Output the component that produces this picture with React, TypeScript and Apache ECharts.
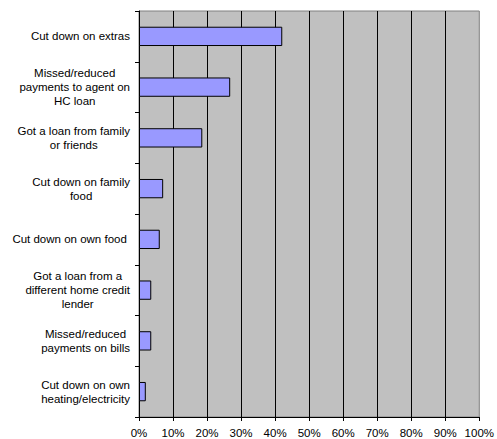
import React, { useEffect, useRef } from "react";
import * as echarts from "echarts";

const categories = [
  "Cut down on extras",
  "Missed/reduced\npayments to agent on\nHC loan",
  "Got a loan from family\nor friends",
  "Cut down on family\nfood",
  "Cut down on own food ",
  "Got a loan from a\ndifferent home credit\nlender",
  "Missed/reduced\npayments on bills",
  "Cut down on own\nheating/electricity",
];

const values = [42.1, 26.8, 18.6, 7.1, 6.1, 3.6, 3.6, 2.0];

const xTicks = [0, 10, 20, 30, 40, 50, 60, 70, 80, 90, 100];

const FONT = "'Liberation Sans', Arial, sans-serif";

export default function App() {
  const ref = useRef<HTMLDivElement>(null);
  useEffect(() => {
    if (!ref.current) return;
    const chart = echarts.init(ref.current, null, { renderer: "svg" });
    chart.setOption({
      animation: false,
      backgroundColor: "#ffffff",
      grid: {
        left: 139,
        top: 11,
        right: 14,
        bottom: 21,
        show: true,
        backgroundColor: "#C0C0C0",
        borderColor: "#808080",
        borderWidth: 1,
        containLabel: false,
      },
      xAxis: {
        type: "value",
        min: xTicks[0],
        max: xTicks[xTicks.length - 1],
        interval: 10,
        axisLine: { show: true, lineStyle: { color: "#000", width: 1 } },
        axisTick: { show: true, length: 4, lineStyle: { color: "#000" } },
        axisLabel: {
          formatter: (v: number) => `${v}%`,
          color: "#000",
          fontFamily: FONT,
          fontSize: 11.5,
          margin: 10,
        },
        splitLine: {
          show: true,
          showMinLine: false,
          showMaxLine: false,
          lineStyle: { color: "#000", width: 1 },
        },
      },
      yAxis: {
        type: "category",
        inverse: true,
        data: categories,
        axisLine: { show: true, lineStyle: { color: "#000", width: 1 } },
        axisTick: { show: true, length: 4, lineStyle: { color: "#000" } },
        axisLabel: {
          margin: 9,
          align: "right",
          formatter: (v: string) =>
            v
              .split("\n")
              .map((l) => `{c|${l}}`)
              .join("\n"),
          rich: {
            c: {
              align: "center",
              color: "#000",
              fontFamily: FONT,
              fontSize: 11.5,
              lineHeight: 14,
            },
          },
        },
        splitLine: { show: false },
      },
      series: [
        {
          type: "bar",
          data: values,
          barWidth: "38%",
          itemStyle: {
            color: "#9999FF",
            borderColor: "#000",
            borderWidth: 1,
          },
        },
      ],
    });
    return () => chart.dispose();
  }, []);
  return (
    <div
      ref={ref}
      style={{ position: "absolute", left: 0, top: 0, width: 497, height: 439 }}
    />
  );
}
